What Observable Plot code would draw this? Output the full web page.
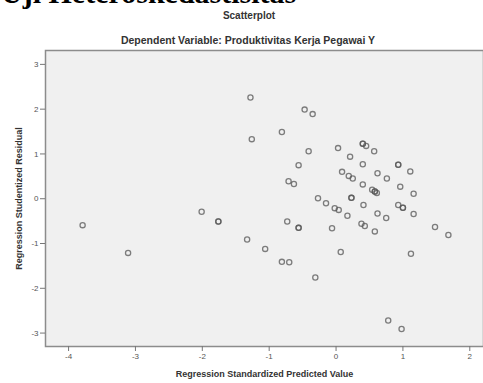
<!DOCTYPE html>
<html>
<head>
<meta charset="utf-8">
<script src="https://cdn.jsdelivr.net/npm/d3@7"></script>
<script src="https://cdn.jsdelivr.net/npm/@observablehq/plot@0.6"></script>
<style>
  html, body { margin: 0; padding: 0; background: #fff; }
  #wrap { position: relative; width: 483px; height: 383px; overflow: hidden; }
  .t { position: absolute; white-space: nowrap; font-family: "Liberation Sans", Arial, sans-serif; font-weight: bold; color: #333; line-height: 1; }
  #big { font-family: "Liberation Serif", "Times New Roman", serif; font-size: 30px; line-height: 0.75; color: #000; left: 1px; top: -18px; }
  #t1 { font-size: 10px; left: 0; width: 498px; text-align: center; top: 11px; }
  #t2 { font-size: 10.5px; left: 0; width: 496px; text-align: center; top: 35px; }
  svg [aria-label="x-axis label"] text, svg [aria-label="y-axis label"] text { font-weight: bold; font-size: 9px; fill: #333; }
</style>
</head>
<body>
<div id="wrap">
  <div class="t" id="big">Uji Heteroskedastisitas</div>
  <div class="t" id="t1">Scatterplot</div>
  <div class="t" id="t2">Dependent Variable: Produktivitas Kerja Pegawai Y</div>
</div>
<script>
// Regression Standardized Predicted Value
const predicted = [
  -3.79, -3.11, -2.01, -1.76, -1.76, -1.33, -1.06, -1.28, -1.26, -0.47,
  -0.35, -0.81, -0.41, 0.03, 0.21, 0.40, 0.40, 0.45, 0.57, -0.56,
  0.40, 0.93, 0.93, 1.11, 0.09, 0.19, 0.25, 0.62, 0.76, -0.71,
  -0.63, 0.40, 0.54, 0.58, 0.58, 0.61, 0.96, 1.16, -0.27, -0.15,
  0.23, 0.23, 0.41, -0.02, 0.04, 0.93, 1.00, 1.00, 0.17, 0.62,
  0.75, 1.16, -0.73, -0.56, -0.56, -0.06, 0.38, 0.43, 0.58, 1.48,
  1.68, 0.07, 1.12, -0.81, -0.70, -0.31, 0.78, 0.98
];
// Regression Studentized Residual
const residual = [
  -0.59, -1.21, -0.29, -0.51, -0.51, -0.91, -1.12, 2.26, 1.33, 1.99,
  1.89, 1.49, 1.06, 1.13, 0.94, 1.23, 1.23, 1.18, 1.06, 0.75,
  0.77, 0.76, 0.76, 0.61, 0.60, 0.51, 0.45, 0.57, 0.45, 0.39,
  0.33, 0.32, 0.20, 0.16, 0.16, 0.13, 0.27, 0.11, 0.01, -0.10,
  0.02, 0.02, -0.14, -0.21, -0.25, -0.14, -0.20, -0.20, -0.38, -0.33,
  -0.43, -0.34, -0.51, -0.65, -0.65, -0.66, -0.56, -0.61, -0.73, -0.63,
  -0.81, -1.19, -1.23, -1.41, -1.42, -1.76, -2.72, -2.91
];
const xTicks = [-4, -3, -2, -1, 0, 1, 2];
const yTicks = [-3, -2, -1, 0, 1, 2, 3];

const data = predicted.map((x, i) => ({x, y: residual[i]}));
const fmt = d => String(d);

const chart = Plot.plot({
  width: 483,
  height: 383,
  marginLeft: 45,
  marginRight: 0,
  marginTop: 50,
  marginBottom: 37,
  style: {fontFamily: "'Liberation Sans', Arial, sans-serif", background: "transparent", overflow: "visible"},
  x: {domain: [-4.345, 2.235], range: [45, 485]},
  y: {domain: [-3.3, 3.31]},
  marks: [
    Plot.frame({fill: "#f0f0f0", stroke: "#8c8c8c", strokeWidth: 1.5}),
    Plot.axisX({ticks: xTicks, tickFormat: fmt, tickSize: 5, tickPadding: 2, fontSize: 8, color: "#555", stroke: "#777",
      label: "Regression Standardized Predicted Value", labelAnchor: "center", labelArrow: "none", labelOffset: 30}),
    Plot.axisY({ticks: yTicks, tickFormat: fmt, tickSize: 5, tickPadding: 2, fontSize: 8, color: "#555", stroke: "#777",
      label: "Regression Studentized Residual", labelAnchor: "center", labelArrow: "none", labelOffset: 30}),
    Plot.dot(data, {x: "x", y: "y", r: 2.6, stroke: "#555", strokeOpacity: 0.75, strokeWidth: 1.3, fill: "none"})
  ]
});
chart.style.position = "absolute";
chart.style.left = "0";
chart.style.top = "0";
document.getElementById("wrap").prepend(chart);
</script>
</body>
</html>
